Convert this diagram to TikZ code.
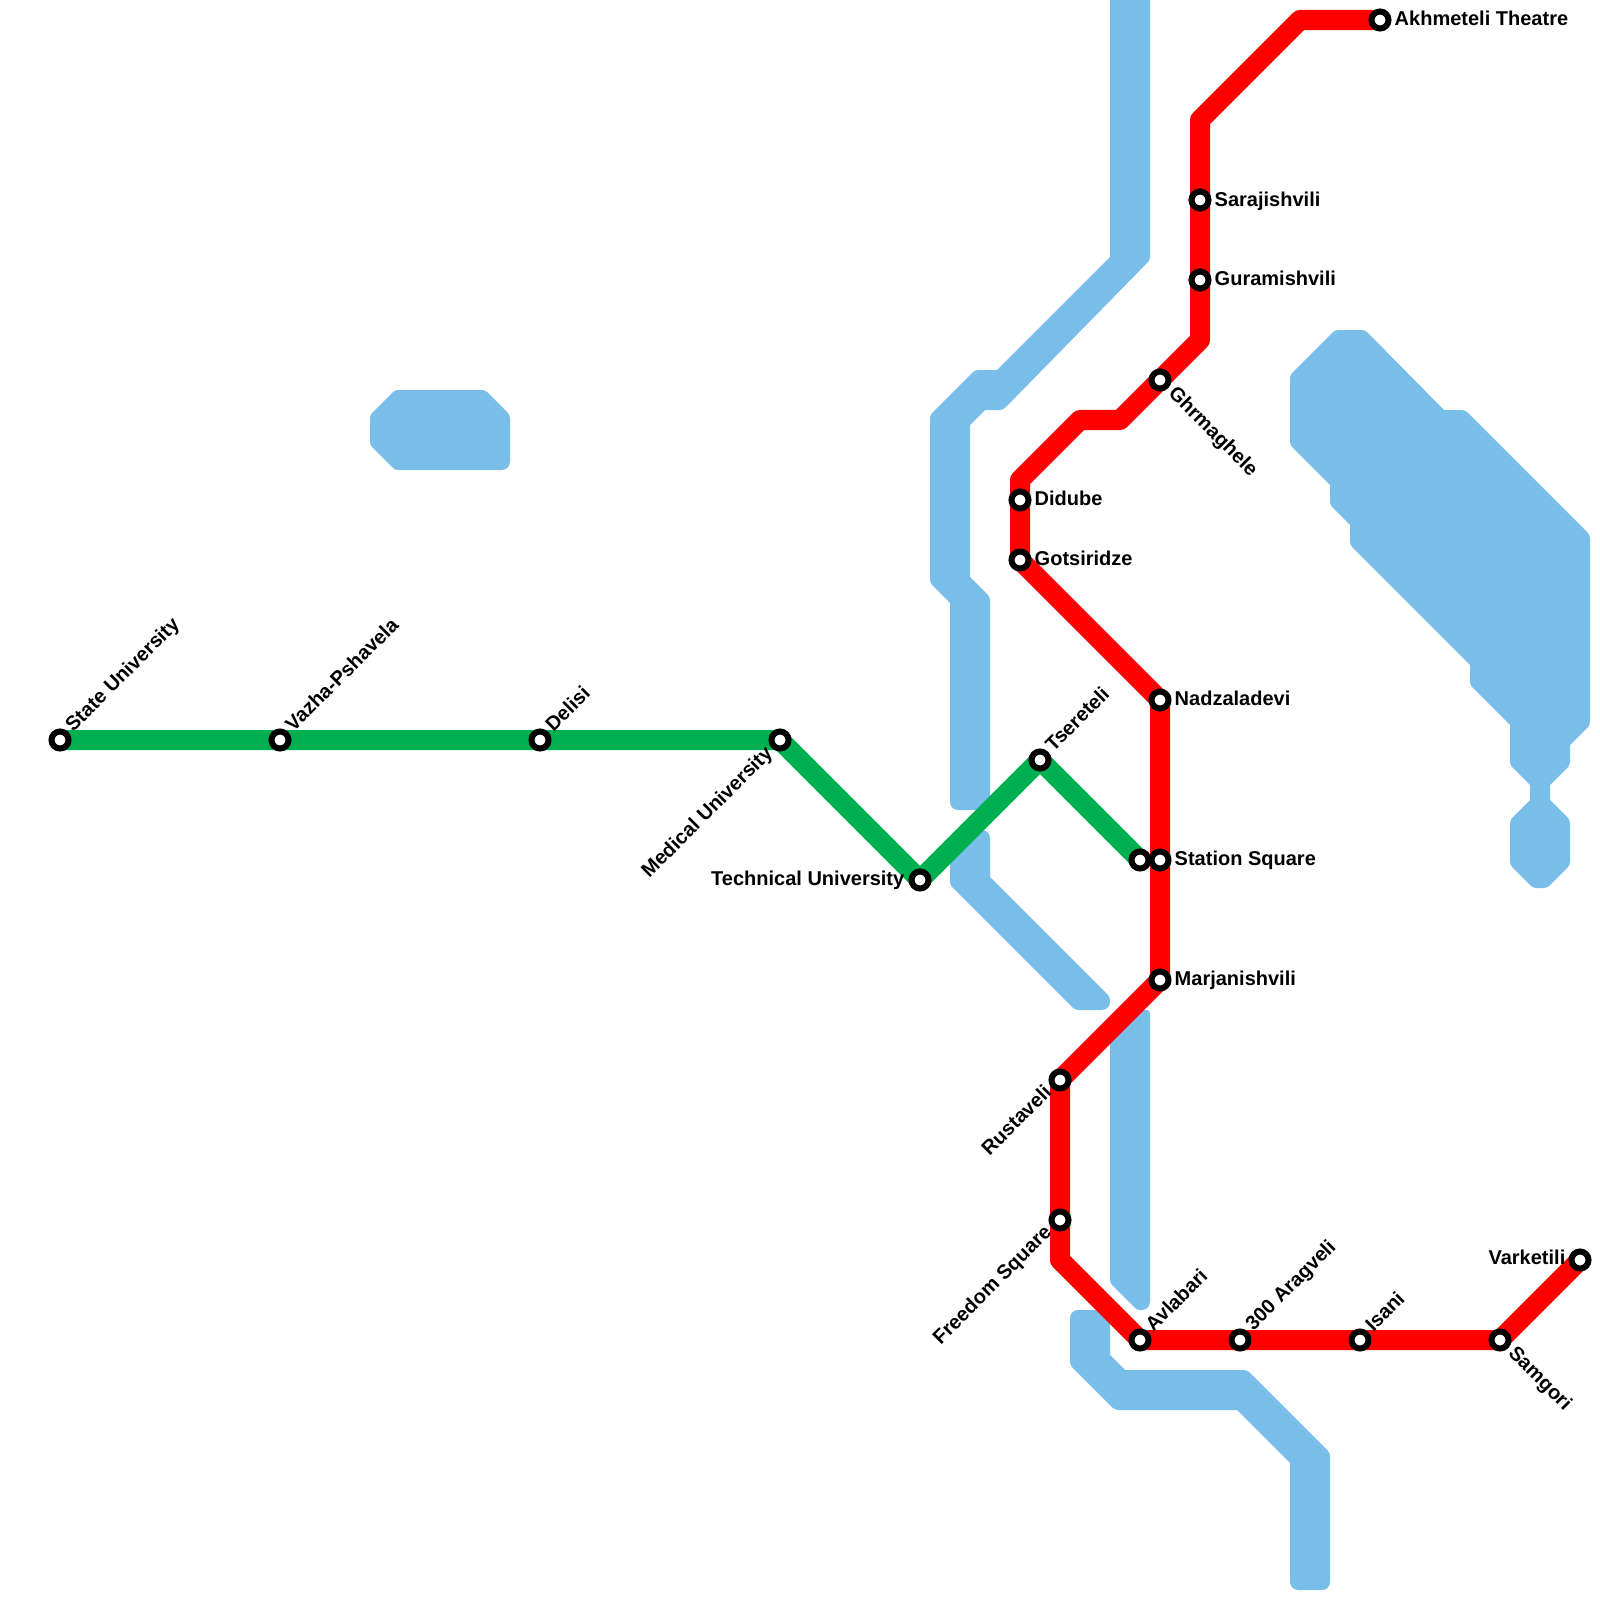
\documentclass[tikz,border=0pt]{standalone}
\usepackage{fontspec}
\setmainfont{Liberation Sans}
\usetikzlibrary{backgrounds}
\definecolor{watercol}{HTML}{79BDE9}
\definecolor{greenline}{HTML}{00B050}
\definecolor{redline}{HTML}{FF0000}
\tikzset{
    soft/.style={rounded corners=0.9pt},
    wide/.style={rounded corners=2.3pt},
    hard/.style={sharp corners},
    water/.style={fill=watercol,soft},
    metro/.style={line width=5.69pt,line join=round,line cap=round},
    stn/.style={circle,draw=black,fill=white,line width=1.71pt,minimum size=4.84pt,inner sep=0pt,outer sep=0pt},
    lbl/.style={font=\fontsize{5.69}{7}\selectfont\bfseries,inner sep=0pt}
}
\begin{document}
\begin{tikzpicture}[x=0.01cm,y=-0.01cm]
    \useasboundingbox (0,0) rectangle (1600,1600);
    \node[stn] (state) at (60,740) {};
    \node[stn] (vazha) at (280,740) {};
    \node[stn] (delisi) at (540,740) {};
    \node[stn] (medical) at (780,740) {};
    \node[stn] (technical) at (920,880) {};
    \node[stn] (tsereteli) at (1040,760) {};
    \node[stn] (squaregreen) at (1140,860) {};
    \node[stn] (varketili) at (1580,1260) {};
    \node[stn] (samgori) at (1500,1340) {};
    \node[stn] (isani) at (1360,1340) {};
    \node[stn] (aragveli) at (1240,1340) {};
    \node[stn] (avlabari) at (1140,1340) {};
    \node[stn] (freedom) at (1060,1220) {};
    \node[stn] (rustaveli) at (1060,1080) {};
    \node[stn] (marjanishvili) at (1160,980) {};
    \node[stn] (squarered) at (1160,860) {};
    \node[stn] (nadzaladevi) at (1160,700) {};
    \node[stn] (gotsiridze) at (1020,560) {};
    \node[stn] (didube) at (1020,500) {};
    \node[stn] (ghrmaghele) at (1160,380) {};
    \node[stn] (guramishvili) at (1200,280) {};
    \node[stn] (sarajishvili) at (1200,200) {};
    \node[stn] (akhmeteli) at (1380,20) {};
    \coordinate (bendavlabari) at (1060,1260);
    \coordinate (benddidube) at (1020,480);
    \coordinate (bendupper) at (1080,420);
    \coordinate (bendlower) at (1120,420);
    \coordinate (bendguram) at (1200,340);
    \coordinate (bendsaraj) at (1200,120);
    \coordinate (bendtop) at (1300,20);
    \begin{scope}[on background layer]
        \fill[water] (1150,-20) -- (1150,260) -- (1003,410) [hard] -- (985,410) -- (970,425) -- (970,577) [soft] -- (990,597) [wide] -- (990,810) -- (950,810) [hard] -- (950,603) [soft] -- (930,583) -- (930,415) -- (975,370) [hard] -- (997,370) -- (1110,257) -- (1110,-20) -- cycle;
        \fill[water] (990,830) [hard] -- (990,877) [soft] -- (1110,997) [wide] -- (1110,1010) [soft] -- (1075,1010) -- (950,885) -- (950,850) -- (970,830) [wide] -- cycle;
        \fill[water] (1140,1010) -- (1150,1010) [wide] -- (1150,1310) [soft] -- (1137,1310) -- (1110,1283) -- (1110,1040) -- cycle;
        \fill[water] (1070,1310) -- (1110,1310) [hard] -- (1110,1355) -- (1125,1370) [soft] -- (1247,1370) -- (1330,1453) [wide] -- (1330,1590) -- (1290,1590) [hard] -- (1290,1463) -- (1237,1410) [soft] -- (1115,1410) -- (1070,1365) [wide] -- cycle;
        \fill[water] (395,390) -- (485,390) -- (510,415) [wide] -- (510,470) [soft] -- (395,470) -- (370,445) -- (370,415) -- cycle;
        \fill[water] (1335,330) -- (1365,330) [hard] -- (1444,410) [soft] -- (1465,410) -- (1590,535) -- (1590,725) [hard] -- (1570,745) [soft] -- (1570,765) [hard] -- (1550,785) -- (1550,800) [soft] -- (1570,820) -- (1570,865) -- (1547,888) -- (1533,888) -- (1510,865) -- (1510,820) [hard] -- (1530,800) -- (1530,785) [soft] -- (1510,765) [hard] -- (1510,725) [soft] -- (1470,685) [hard] -- (1470,665) [soft] -- (1350,545) [hard] -- (1350,525) [soft] -- (1330,505) [hard] -- (1330,485) [soft] -- (1290,445) -- (1290,375) -- cycle;
        \draw[metro,greenline] (state.center) -- (vazha.center) -- (delisi.center) -- (medical.center) -- (technical.center) -- (tsereteli.center) -- (squaregreen.center);
        \draw[metro,redline] (varketili.center) -- (samgori.center) -- (isani.center) -- (aragveli.center) -- (avlabari.center) -- (bendavlabari) -- (freedom.center) -- (rustaveli.center) -- (marjanishvili.center) -- (squarered.center) -- (nadzaladevi.center) -- (gotsiridze.center) -- (didube.center) -- (benddidube) -- (bendupper) -- (bendlower) -- (ghrmaghele.center) -- (bendguram) -- (guramishvili.center) -- (sarajishvili.center) -- (bendsaraj) -- (bendtop) -- (akhmeteli.center);
    \end{scope}
    \node[lbl,rotate=45,anchor=base west] (statetxt) at (73,733) {State University};
    \node[lbl,rotate=45,anchor=base west] (vazhatxt) at (293,733) {Vazha-Pshavela};
    \node[lbl,rotate=45,anchor=base west] (delisitxt) at (553,733) {Delisi};
    \node[lbl,rotate=45,anchor=base east] (medicaltxt) at (774,754) {Medical University};
    \node[lbl,anchor=base east] (technicaltxt) at (905,885) {Technical University};
    \node[lbl,rotate=45,anchor=base west] (tseretelitxt) at (1053,753) {Tsereteli};
    \node[lbl,anchor=base west] (squaretxt) at (1174,865) {Station Square};
    \node[lbl,anchor=base east] (varketilitxt) at (1566,1264) {Varketili};
    \node[lbl,rotate=-45,anchor=base west] (samgoritxt) at (1507,1354) {Samgori};
    \node[lbl,rotate=45,anchor=base west] (isanitxt) at (1373,1333) {Isani};
    \node[lbl,rotate=45,anchor=base west] (aragvelitxt) at (1253,1332) {300 Aragveli};
    \node[lbl,rotate=45,anchor=base west] (avlabaritxt) at (1153,1333) {Avlabari};
    \node[lbl,rotate=45,anchor=base east] (freedomtxt) at (1053,1233) {Freedom Square};
    \node[lbl,rotate=45,anchor=base east] (rustavelitxt) at (1053,1093) {Rustaveli};
    \node[lbl,anchor=base west] (marjanishvilitxt) at (1174,985) {Marjanishvili};
    \node[lbl,anchor=base west] (nadzaladevitxt) at (1174,705) {Nadzaladevi};
    \node[lbl,anchor=base west] (gotsiridzetxt) at (1034,565) {Gotsiridze};
    \node[lbl,anchor=base west] (didubetxt) at (1034,505) {Didube};
    \node[lbl,rotate=-45,anchor=base west] (ghrmagheletxt) at (1167,394) {Ghrmaghele};
    \node[lbl,anchor=base west] (guramishvilitxt) at (1214,285) {Guramishvili};
    \node[lbl,anchor=base west] (sarajishvilitxt) at (1214,206) {Sarajishvili};
    \node[lbl,anchor=base west] (akhmetelitxt) at (1394,26) {Akhmeteli Theatre};
\end{tikzpicture}
\end{document}
